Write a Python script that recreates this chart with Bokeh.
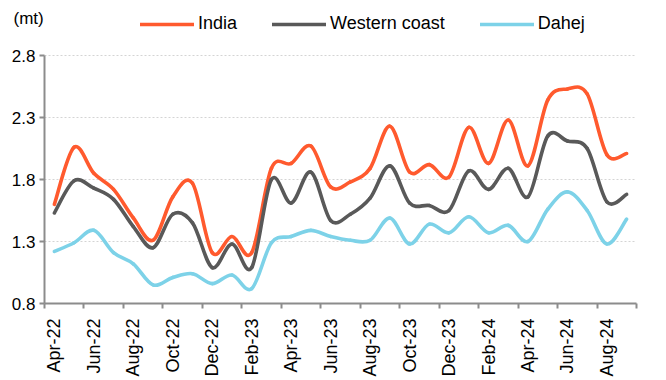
import math
from bokeh.plotting import figure
from bokeh.models import (Range1d, FixedTicker, Legend, LegendItem, Label,
                          ColumnDataSource)
from bokeh.embed import file_html
from bokeh.resources import INLINE

# ---------------- data ----------------
months = ["Apr-22", "May-22", "Jun-22", "Jul-22", "Aug-22", "Sep-22", "Oct-22", "Nov-22",
          "Dec-22", "Jan-23", "Feb-23", "Mar-23", "Apr-23", "May-23", "Jun-23", "Jul-23",
          "Aug-23", "Sep-23", "Oct-23", "Nov-23", "Dec-23", "Jan-24", "Feb-24", "Mar-24",
          "Apr-24", "May-24", "Jun-24", "Jul-24", "Aug-24", "Sep-24"]
india = [1.60, 2.06, 1.85, 1.72, 1.49, 1.31, 1.66, 1.77, 1.21, 1.34, 1.21, 1.89, 1.93, 2.07, 1.74,
         1.78, 1.89, 2.23, 1.86, 1.92, 1.82, 2.22, 1.93, 2.28, 1.91, 2.44, 2.53, 2.49, 2.00, 2.01]
western_coast = [1.53, 1.79, 1.73, 1.64, 1.42, 1.25, 1.52, 1.45, 1.09, 1.28, 1.09, 1.80, 1.61, 1.86, 1.47,
                 1.52, 1.65, 1.91, 1.61, 1.59, 1.55, 1.87, 1.72, 1.89, 1.66, 2.15, 2.11, 2.05, 1.62, 1.68]
dahej = [1.22, 1.29, 1.39, 1.21, 1.12, 0.95, 1.01, 1.04, 0.96, 1.03, 0.92, 1.29, 1.34, 1.39, 1.34,
         1.31, 1.31, 1.49, 1.28, 1.44, 1.37, 1.50, 1.37, 1.43, 1.30, 1.56, 1.70, 1.55, 1.28, 1.48]
series_names = ["India", "Western coast", "Dahej"]
series_colors = ["#FF5A2E", "#595959", "#7DD2E8"]
y_ticks = [0.8, 1.3, 1.8, 2.3, 2.8]
unit_label = "(mt)"

FONT = "Liberation Sans"

# layout (pixels)
W, H = 666, 380
BORDER_LEFT, BORDER_RIGHT, BORDER_BOTTOM = 44, 30, 77
FRAME_BOTTOM = H - BORDER_BOTTOM      # y pixel of 0.8
PX_PER_UNIT = 124                     # pixels per 1.0 mt
Y_TOP = y_ticks[0] + FRAME_BOTTOM / PX_PER_UNIT   # frame reaches the top edge (room for legend)


def bezier_source(vals):
    """Smooth curve segments (Catmull-Rom style, like Excel's smoothed line)."""
    n = len(vals)
    xs = list(range(n))
    d = dict(x0=[], y0=[], x1=[], y1=[], cx0=[], cy0=[], cx1=[], cy1=[])
    for i in range(n - 1):
        im1 = max(i - 1, 0)
        ip2 = min(i + 2, n - 1)
        d["x0"].append(xs[i]); d["y0"].append(vals[i])
        d["x1"].append(xs[i + 1]); d["y1"].append(vals[i + 1])
        d["cx0"].append(xs[i] + (xs[i + 1] - xs[im1]) / 6)
        d["cy0"].append(vals[i] + (vals[i + 1] - vals[im1]) / 6)
        d["cx1"].append(xs[i + 1] - (xs[ip2] - xs[i]) / 6)
        d["cy1"].append(vals[i + 1] - (vals[ip2] - vals[i]) / 6)
    return ColumnDataSource(d)


p = figure(width=W, height=H, output_backend="svg", toolbar_location=None,
           x_range=Range1d(-0.5, len(months) - 0.5), y_range=Range1d(y_ticks[0], Y_TOP),
           min_border_left=BORDER_LEFT, min_border_right=BORDER_RIGHT,
           min_border_top=0, min_border_bottom=BORDER_BOTTOM)
p.outline_line_color = None
p.background_fill_color = "white"
p.border_fill_color = "white"

renderers = []
for vals, name, color in zip([india, western_coast, dahej], series_names, series_colors):
    r = p.bezier(x0="x0", y0="y0", x1="x1", y1="y1", cx0="cx0", cy0="cy0", cx1="cx1", cy1="cy1",
                 source=bezier_source(vals), line_color=color, line_width=3.6, line_cap="round")
    renderers.append(r)

# axes
p.xaxis.ticker = FixedTicker(ticks=list(range(0, len(months), 2)),
                             minor_ticks=[i - 0.5 for i in range(0, len(months) + 1, 2)])
p.xaxis.major_label_overrides = {i: months[i] for i in range(0, len(months), 2)}
p.xaxis.major_label_orientation = math.pi / 2
p.xaxis.major_tick_line_color = None
p.xaxis.minor_tick_line_color = "#8C8C8C"
p.xaxis.minor_tick_line_width = 2
p.xaxis.minor_tick_in = 0
p.xaxis.minor_tick_out = 5
p.xaxis.major_label_standoff = 9
p.xaxis.major_label_text_font_size = "18px"

p.yaxis.ticker = FixedTicker(ticks=y_ticks)
p.yaxis.bounds = (y_ticks[0], y_ticks[-1])
p.yaxis.major_label_overrides = {t: f"{t:.1f}" for t in y_ticks}
p.yaxis.major_tick_line_color = "#8C8C8C"
p.yaxis.major_tick_line_width = 2
p.yaxis.major_tick_in = 0
p.yaxis.major_tick_out = 5
p.yaxis.minor_tick_line_color = None
p.yaxis.major_label_standoff = 4
p.yaxis.major_label_text_font_size = "17px"

for ax in (p.xaxis, p.yaxis):
    ax.axis_line_color = "#8C8C8C"
    ax.axis_line_width = 2
    ax.major_label_text_font = FONT
    ax.major_label_text_color = "black"

p.xgrid.grid_line_color = None
p.ygrid.ticker = FixedTicker(ticks=y_ticks[1:])
p.ygrid.grid_line_color = "#D4D4D4"
p.ygrid.grid_line_dash = "2 2"
p.ygrid.grid_line_width = 1

legend = Legend(items=[LegendItem(label=n, renderers=[r]) for n, r in zip(series_names, renderers)],
                orientation="horizontal", location=(96, FRAME_BOTTOM - 34),
                glyph_width=54, glyph_height=20, label_standoff=4, spacing=35,
                padding=0, margin=0, border_line_color=None, background_fill_alpha=0,
                label_text_font=FONT, label_text_font_size="18px", label_text_color="black")
p.add_layout(legend, "center")

# unit label: kept in the right side panel (side panels are not clipped),
# shifted back to the top-left corner of the canvas
p.add_layout(Label(x=13 - (W - BORDER_RIGHT), y=FRAME_BOTTOM - 18, x_units="screen", y_units="screen",
                   text=unit_label, text_font=FONT, text_font_size="17px", text_baseline="middle",
                   text_color="black"), "right")

open("out.html", "w").write(file_html(p, INLINE))
